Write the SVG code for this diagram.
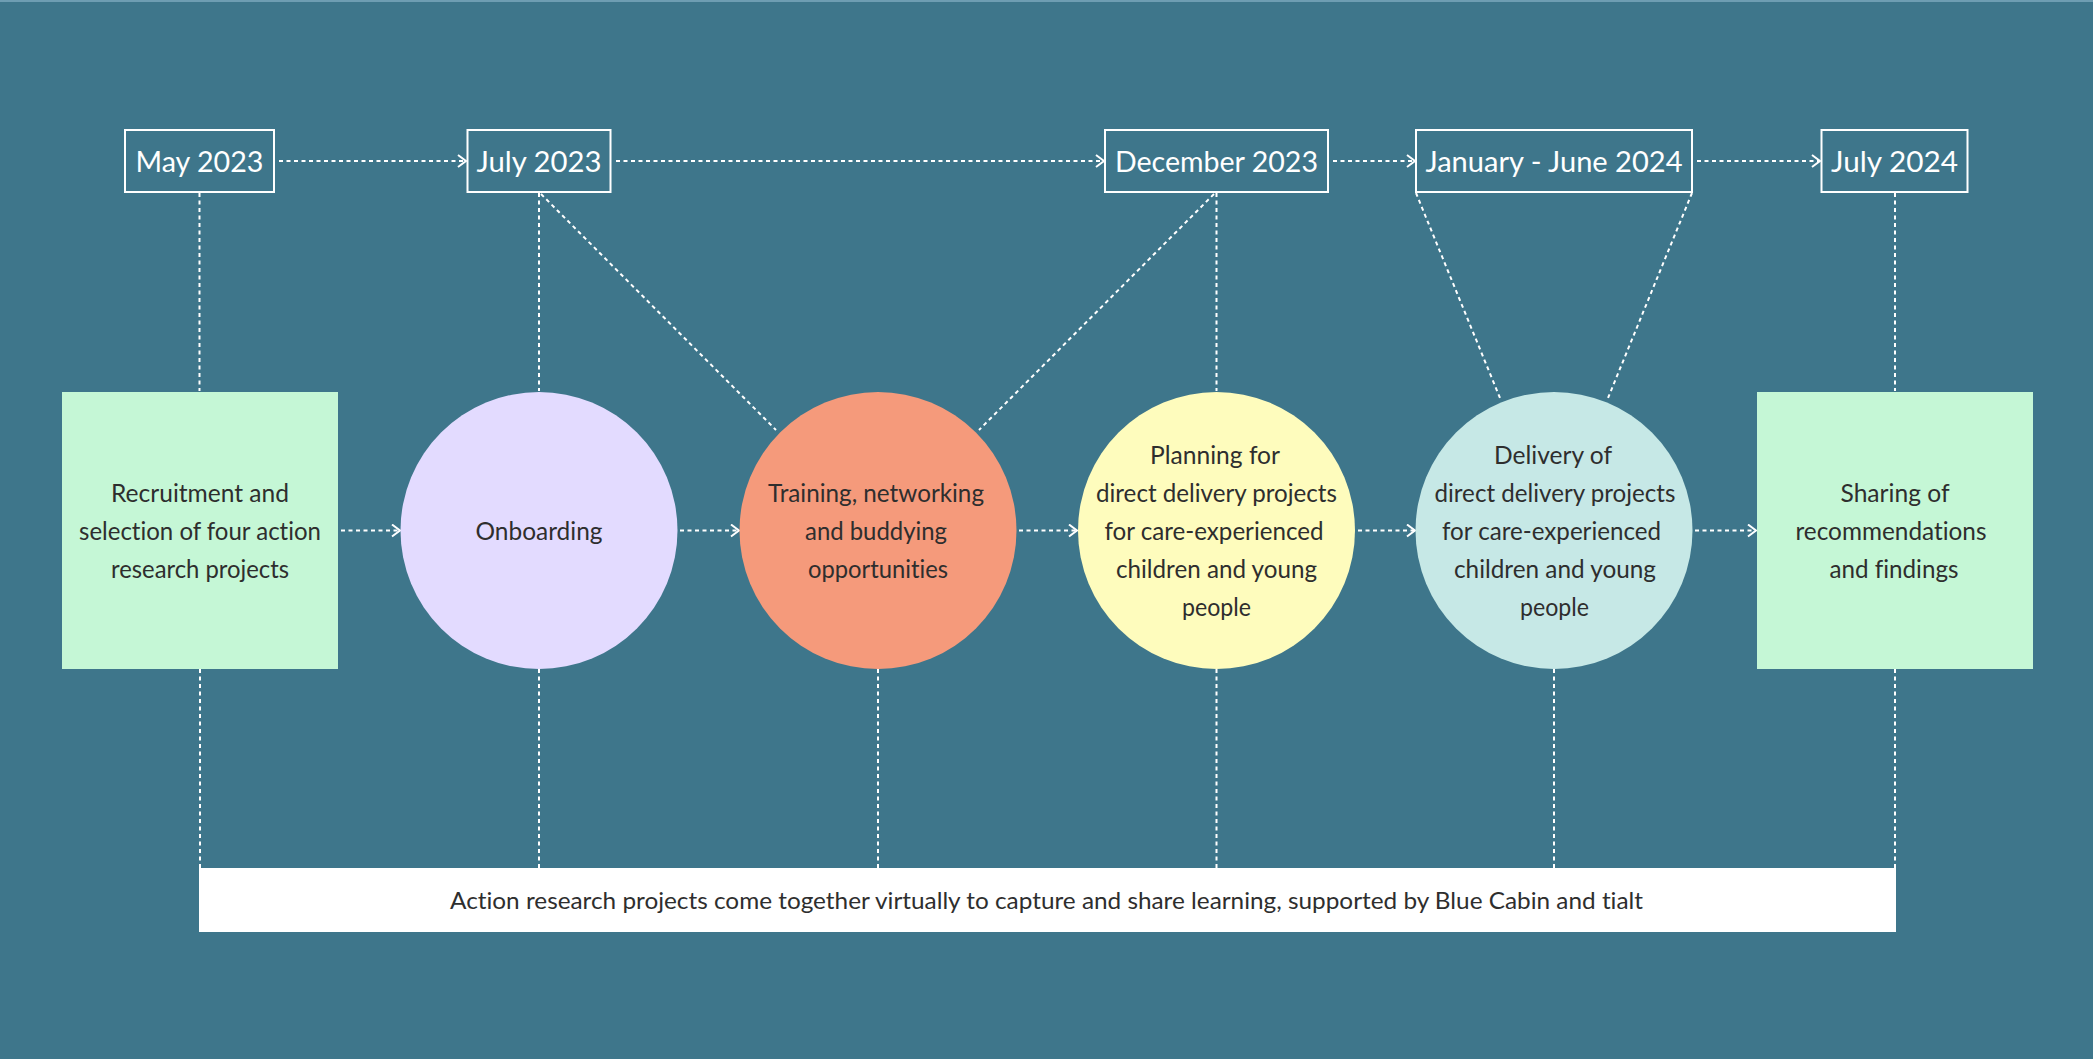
<svg xmlns="http://www.w3.org/2000/svg" width="2093" height="1059" viewBox="0 0 2093 1059">
  <defs>
    <marker id="chev" markerUnits="userSpaceOnUse" markerWidth="12" markerHeight="16" refX="9" refY="7" orient="auto">
      <path d="M1,1 L9,7 L1,13" fill="none" stroke="#ffffff" stroke-width="2"/>
    </marker>
    <style>
      text { font-variant-ligatures: none; font-feature-settings: "liga" 0, "dlig" 0; }
      .date rect { fill: none; stroke: #ffffff; stroke-width: 2; }
      .date text { font-family: Lato, "Liberation Sans", sans-serif; font-size: 29px; fill: #ffffff; text-anchor: middle; }
      .node text { font-family: Lato, "Liberation Sans", sans-serif; font-size: 25px; fill: #2e2e2e; text-anchor: middle; }
      .conn line { stroke: #ffffff; stroke-width: 2; stroke-dasharray: 4 3.5; fill: none; }
      .conn line.arrow { marker-end: url(#chev); }
      .bar text { font-family: Lato, "Liberation Sans", sans-serif; font-size: 24px; fill: #2e2e2e; text-anchor: middle; }
    </style>
  </defs>

  <!-- background -->
  <rect x="0" y="0" width="2093" height="1059" fill="#3e768b"/>
  <rect x="0" y="0" width="2093" height="2" fill="#6e9db2"/>

  <!-- connectors -->
  <g id="connectors" class="conn">
    <!-- timeline arrows -->
    <line class="arrow" x1="279" y1="161" x2="466" y2="161"/>
    <line class="arrow" x1="616" y1="161" x2="1104" y2="161"/>
    <line class="arrow" x1="1333" y1="161" x2="1415" y2="161"/>
    <line class="arrow" x1="1697" y1="161" x2="1820" y2="161"/>
    <!-- stage arrows -->
    <line class="arrow" x1="341" y1="530.5" x2="400" y2="530.5"/>
    <line class="arrow" x1="680" y1="530.5" x2="739" y2="530.5"/>
    <line class="arrow" x1="1019" y1="530.5" x2="1077" y2="530.5"/>
    <line class="arrow" x1="1358" y1="530.5" x2="1415" y2="530.5"/>
    <line class="arrow" x1="1695" y1="530.5" x2="1756" y2="530.5"/>
    <!-- dates to stages -->
    <line x1="199.5" y1="193" x2="199.5" y2="391"/>
    <line x1="539" y1="193" x2="539" y2="391"/>
    <line x1="1216.5" y1="193" x2="1216.5" y2="391"/>
    <line x1="1895" y1="193" x2="1895" y2="391"/>
    <line x1="541" y1="194" x2="776" y2="430"/>
    <line x1="1214" y1="194" x2="979" y2="430"/>
    <line x1="1416" y1="193" x2="1500" y2="398"/>
    <line x1="1692" y1="193" x2="1608" y2="398"/>
    <!-- stages to shared learning bar -->
    <line x1="200" y1="669" x2="200" y2="868"/>
    <line x1="539" y1="669" x2="539" y2="868"/>
    <line x1="878" y1="669" x2="878" y2="868"/>
    <line x1="1216.5" y1="669" x2="1216.5" y2="868"/>
    <line x1="1554" y1="669" x2="1554" y2="868"/>
    <line x1="1895" y1="669" x2="1895" y2="868"/>
  </g>

  <!-- dates -->
  <g id="date-may-2023" class="date">
    <rect x="125" y="130" width="149" height="62"/>
    <text x="199.5" y="172" textLength="128" lengthAdjust="spacingAndGlyphs">May 2023</text>
  </g>
  <g id="date-july-2023" class="date">
    <rect x="467.5" y="130" width="143" height="62"/>
    <text x="539" y="172" textLength="125" lengthAdjust="spacingAndGlyphs">July 2023</text>
  </g>
  <g id="date-december-2023" class="date">
    <rect x="1105" y="130" width="223" height="62"/>
    <text x="1216.5" y="172" textLength="203" lengthAdjust="spacingAndGlyphs">December 2023</text>
  </g>
  <g id="date-jan-june-2024" class="date">
    <rect x="1416" y="130" width="276" height="62"/>
    <text x="1554" y="172" textLength="257" lengthAdjust="spacingAndGlyphs">January - June 2024</text>
  </g>
  <g id="date-july-2024" class="date">
    <rect x="1821.5" y="130" width="146" height="62"/>
    <text x="1894.5" y="172" textLength="127" lengthAdjust="spacingAndGlyphs">July 2024</text>
  </g>

  <!-- stages -->
  <g id="stage-recruitment" class="node">
    <rect x="62" y="392" width="276" height="277" fill="#c5f7d6"/>
    <text x="200" y="502" textLength="178" lengthAdjust="spacingAndGlyphs">Recruitment and</text>
    <text x="200" y="540" textLength="242" lengthAdjust="spacingAndGlyphs">selection of four action</text>
    <text x="200" y="578" textLength="178" lengthAdjust="spacingAndGlyphs">research projects</text>
  </g>
  <g id="stage-onboarding" class="node">
    <circle cx="539" cy="530.5" r="138.5" fill="#e3dbff"/>
    <text x="539" y="540" textLength="127" lengthAdjust="spacingAndGlyphs">Onboarding</text>
  </g>
  <g id="stage-training" class="node">
    <circle cx="878" cy="530.5" r="138.5" fill="#f59a7b"/>
    <text x="876" y="502" textLength="216" lengthAdjust="spacingAndGlyphs">Training, networking</text>
    <text x="876" y="540" textLength="142" lengthAdjust="spacingAndGlyphs">and buddying</text>
    <text x="878" y="578" textLength="140" lengthAdjust="spacingAndGlyphs">opportunities</text>
  </g>
  <g id="stage-planning" class="node">
    <circle cx="1216.5" cy="530.5" r="138.5" fill="#fefcbd"/>
    <text x="1215" y="464" textLength="130" lengthAdjust="spacingAndGlyphs">Planning for</text>
    <text x="1216.5" y="502" textLength="241" lengthAdjust="spacingAndGlyphs">direct delivery projects</text>
    <text x="1214" y="540" textLength="219" lengthAdjust="spacingAndGlyphs">for care-experienced</text>
    <text x="1216.5" y="578" textLength="201" lengthAdjust="spacingAndGlyphs">children and young</text>
    <text x="1216.5" y="616" textLength="69" lengthAdjust="spacingAndGlyphs">people</text>
  </g>
  <g id="stage-delivery" class="node">
    <circle cx="1554" cy="530.5" r="138.5" fill="#c6e8e6"/>
    <text x="1553" y="464" textLength="118" lengthAdjust="spacingAndGlyphs">Delivery of</text>
    <text x="1555" y="502" textLength="241" lengthAdjust="spacingAndGlyphs">direct delivery projects</text>
    <text x="1551.5" y="540" textLength="219" lengthAdjust="spacingAndGlyphs">for care-experienced</text>
    <text x="1555" y="578" textLength="202" lengthAdjust="spacingAndGlyphs">children and young</text>
    <text x="1554.5" y="616" textLength="69" lengthAdjust="spacingAndGlyphs">people</text>
  </g>
  <g id="stage-sharing" class="node">
    <rect x="1757" y="392" width="276" height="277" fill="#c5f7d6"/>
    <text x="1895" y="502" textLength="109" lengthAdjust="spacingAndGlyphs">Sharing of</text>
    <text x="1891" y="540" textLength="191" lengthAdjust="spacingAndGlyphs">recommendations</text>
    <text x="1894" y="578" textLength="129" lengthAdjust="spacingAndGlyphs">and findings</text>
  </g>

  <!-- shared learning bar -->
  <g id="shared-learning" class="bar">
    <rect x="199" y="868" width="1697" height="64" fill="#ffffff"/>
    <text x="1046.5" y="909" textLength="1193" lengthAdjust="spacingAndGlyphs">Action research projects come together virtually to capture and share learning, supported by Blue Cabin and tialt</text>
  </g>
</svg>
